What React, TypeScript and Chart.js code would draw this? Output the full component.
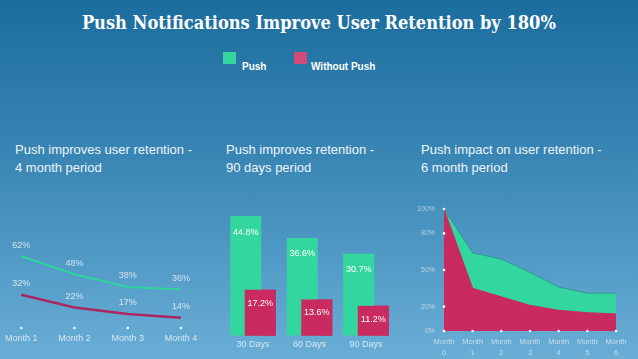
import React, { useEffect, useRef } from "react";
import { Chart, registerables } from "chart.js";

Chart.register(...registerables);

// ---------- data ----------
const TITLE = "Push Notifications Improve User Retention by 180%";
const SERIES = ["Push", "Without Push"];

const SUBTITLES = [
  ["Push improves user retention -", "4 month period"],
  ["Push improves retention -", "90 days period"],
  ["Push impact on user retention -", "6 month period"],
];

const monthLabels4 = ["Month 1", "Month 2", "Month 3", "Month 4"];
const push4 = [62, 48, 38, 36];
const without4 = [32, 22, 17, 14];

const dayLabels = ["30 Days", "60 Days", "90 Days"];
const push90 = [44.8, 36.6, 30.7];
const without90 = [17.2, 13.6, 11.2];

const monthLabels6 = ["Month 0", "Month 1", "Month 2", "Month 3", "Month 4", "Month 5", "Month 6"];
const push6 = [100, 64, 59, 48, 36, 31, 31];
const without6 = [100, 35, 28, 21, 17, 15, 14];
const yTicks6 = [0, 20, 50, 80, 100];

// ---------- style ----------
const GREEN = "#34d69f";
const RED = "#c92a60";
const GREEN_LINE = "#2fd39c";
const RED_LINE = "#a9285f";
const FAINT = "rgba(255,255,255,0.72)";
const SANS = "'Liberation Sans', Arial, sans-serif";

Chart.defaults.font.family = SANS;

const pointLabels = {
  id: "pointLabels",
  afterDatasetsDraw(chart: any) {
    const ctx = chart.ctx;
    ctx.save();
    ctx.font = `9px ${SANS}`;
    ctx.fillStyle = FAINT;
    ctx.textAlign = "center";
    ctx.textBaseline = "middle";
    chart.data.datasets.forEach((ds: any, di: number) => {
      const meta = chart.getDatasetMeta(di);
      meta.data.forEach((pt: any, i: number) => {
        ctx.fillText(`${ds.data[i]}%`, pt.x, pt.y - 11);
      });
    });
    ctx.restore();
  },
};

const barLabels = {
  id: "barLabels",
  afterDatasetsDraw(chart: any) {
    // redraw "Without Push" bars above the overlapping "Push" bars
    chart.getDatasetMeta(1).controller.draw();
    const ctx = chart.ctx;
    ctx.save();
    ctx.font = `9px ${SANS}`;
    ctx.fillStyle = "#ffffff";
    ctx.textAlign = "center";
    ctx.textBaseline = "middle";
    chart.data.datasets.forEach((ds: any, di: number) => {
      const meta = chart.getDatasetMeta(di);
      meta.data.forEach((bar: any, i: number) => {
        ctx.fillText(`${ds.data[i]}%`, bar.x, bar.y + (di === 0 ? 16 : 13.5));
      });
    });
    ctx.restore();
  },
};

const tickDots = {
  id: "tickDots",
  afterDraw(chart: any, _args: any, opts: any) {
    const ctx = chart.ctx;
    const area = chart.chartArea;
    ctx.save();
    ctx.fillStyle = "#ffffff";
    const xs = chart.scales.x;
    xs.ticks.forEach((_t: any, i: number) => {
      ctx.beginPath();
      ctx.arc(xs.getPixelForTick(i), area.bottom, 1.3, 0, Math.PI * 2);
      ctx.fill();
    });
    if (opts && opts.yDots) {
      const ys = chart.scales.y;
      ys.ticks.forEach((t: any) => {
        ctx.beginPath();
        ctx.arc(area.left, ys.getPixelForValue(t.value), 1.3, 0, Math.PI * 2);
        ctx.fill();
      });
    }
    ctx.restore();
  },
};

function useChart(ref: React.RefObject<HTMLCanvasElement>, make: () => any) {
  useEffect(() => {
    if (!ref.current) return;
    const chart = new Chart(ref.current, make());
    return () => chart.destroy();
  }, []);
}

function LineChart4() {
  const ref = useRef<HTMLCanvasElement>(null);
  useChart(ref, () => ({
    type: "line",
    data: {
      labels: monthLabels4,
      datasets: [
        { label: SERIES[0], data: push4, borderColor: GREEN_LINE, borderWidth: 2, pointRadius: 0, tension: 0, fill: false },
        { label: SERIES[1], data: without4, borderColor: RED_LINE, borderWidth: 2.5, pointRadius: 0, tension: 0, fill: false },
      ],
    },
    options: {
      animation: false,
      responsive: false,
      events: [],
      layout: { padding: { left: 19, right: 29, top: 46, bottom: 11 } },
      plugins: { legend: { display: false }, tooltip: { enabled: false }, tickDots: {} },
      scales: {
        x: {
          offset: false,
          grid: { display: false, drawTicks: false },
          border: { display: false },
          ticks: { color: FAINT, font: { size: 9 }, padding: 5, maxRotation: 0, autoSkip: false },
          afterFit: (s: any) => { s.height = 20; },
        },
        y: { display: false, min: 6, max: 70 },
      },
    },
    plugins: [pointLabels, tickDots],
  }));
  return <canvas ref={ref} width={210} height={159} style={{ position: "absolute", left: 0, top: 200, width: 210, height: 159 }} />;
}

function BarChart90() {
  const ref = useRef<HTMLCanvasElement>(null);
  useChart(ref, () => ({
    type: "bar",
    data: {
      labels: dayLabels,
      datasets: [
        { label: SERIES[0], data: push90, backgroundColor: GREEN, categoryPercentage: 0.513, barPercentage: 2.14 },
        { label: SERIES[1], data: without90, backgroundColor: RED, categoryPercentage: 0.513, barPercentage: 2.14 },
      ],
    },
    options: {
      animation: false,
      responsive: false,
      events: [],
      layout: { padding: { left: 14.75, right: 15.75, top: 7.2, bottom: 8.3 } },
      plugins: { legend: { display: false }, tooltip: { enabled: false } },
      scales: {
        x: {
          grid: { display: false, drawTicks: false },
          border: { display: false },
          ticks: { color: FAINT, font: { size: 9 }, padding: 3, maxRotation: 0, autoSkip: false },
          afterFit: (s: any) => { s.height = 15; },
        },
        y: { display: false, min: 0, max: 50 },
      },
    },
    plugins: [barLabels],
  }));
  return <canvas ref={ref} width={200} height={164} style={{ position: "absolute", left: 210, top: 195, width: 200, height: 164 }} />;
}

function AreaChart6() {
  const ref = useRef<HTMLCanvasElement>(null);
  useChart(ref, () => ({
    type: "line",
    data: {
      labels: monthLabels6.map((m) => m.split(" ")),
      datasets: [
        { label: SERIES[1], data: without6, order: 0, backgroundColor: RED, borderColor: RED, borderWidth: 1, pointRadius: 0, tension: 0, fill: "origin" },
        { label: SERIES[0], data: push6, order: 1, backgroundColor: GREEN, borderColor: "#2a9f8e", borderWidth: 1, pointRadius: 0, tension: 0, fill: "origin" },
      ],
    },
    options: {
      animation: false,
      responsive: false,
      events: [],
      layout: { padding: { left: 4, right: 22, top: 14, bottom: 0 } },
      plugins: { legend: { display: false }, tooltip: { enabled: false }, tickDots: { yDots: true } },
      scales: {
        x: {
          offset: false,
          grid: { display: false, drawTicks: false },
          border: { display: false },
          ticks: { color: "rgba(255,255,255,0.6)", font: { size: 7.5, lineHeight: 1.4 }, padding: 6, maxRotation: 0, autoSkip: false },
          afterFit: (s: any) => { s.height = 28; },
        },
        y: {
          min: 0,
          max: 100,
          grid: { display: false, drawTicks: false },
          border: { display: false },
          afterBuildTicks: (s: any) => { s.ticks = yTicks6.map((v) => ({ value: v })); },
          ticks: { color: "rgba(255,255,255,0.55)", font: { size: 7 }, padding: 9, callback: (v: any) => `${v}%` },
          afterFit: (s: any) => { s.width = 30; },
        },
      },
    },
    plugins: [tickDots],
  }));
  return <canvas ref={ref} width={228} height={164} style={{ position: "absolute", left: 410, top: 195, width: 228, height: 164 }} />;
}

export default function App() {
  const titleRef = useRef<HTMLSpanElement>(null);
  useEffect(() => {
    document.body.style.margin = "0";
    const el = titleRef.current;
    if (el) {
      const w = el.getBoundingClientRect().width;
      if (w > 0) el.style.transform = `scaleX(${474 / w})`;
    }
  }, []);

  const subLefts = [15, 226, 421];

  return (
    <div
      style={{
        position: "relative",
        width: 638,
        height: 359,
        overflow: "hidden",
        background: "linear-gradient(180deg, #1b6d9d 0%, #3a87b6 45%, #6aaed6 100%)",
        fontFamily: SANS,
        color: "#fff",
      }}
    >
      <div style={{ position: "absolute", top: 9, left: 0, width: 638, textAlign: "center" }}>
        <span
          ref={titleRef}
          style={{
            display: "inline-block",
            fontFamily: "'DejaVu Serif', serif",
            fontWeight: 700,
            fontSize: 19,
            lineHeight: "26px",
            whiteSpace: "nowrap",
            transformOrigin: "center",
          }}
        >
          {TITLE}
        </span>
      </div>

      <div style={{ position: "absolute", left: 223, top: 52, width: 13, height: 12, background: GREEN }} />
      <div style={{ position: "absolute", left: 242, top: 61, fontSize: 10, fontWeight: 700, lineHeight: "12px" }}>{SERIES[0]}</div>
      <div style={{ position: "absolute", left: 294, top: 52, width: 13, height: 12, background: "#d24a79" }} />
      <div style={{ position: "absolute", left: 311, top: 61, fontSize: 10, fontWeight: 700, lineHeight: "12px" }}>{SERIES[1]}</div>

      {SUBTITLES.map((lines, i) => (
        <div
          key={i}
          style={{ position: "absolute", left: subLefts[i], top: 141, fontSize: 13, lineHeight: "18px", color: "#eef4f9", whiteSpace: "nowrap" }}
        >
          {lines[0]}
          <br />
          {lines[1]}
        </div>
      ))}

      <LineChart4 />
      <BarChart90 />
      <AreaChart6 />
    </div>
  );
}
